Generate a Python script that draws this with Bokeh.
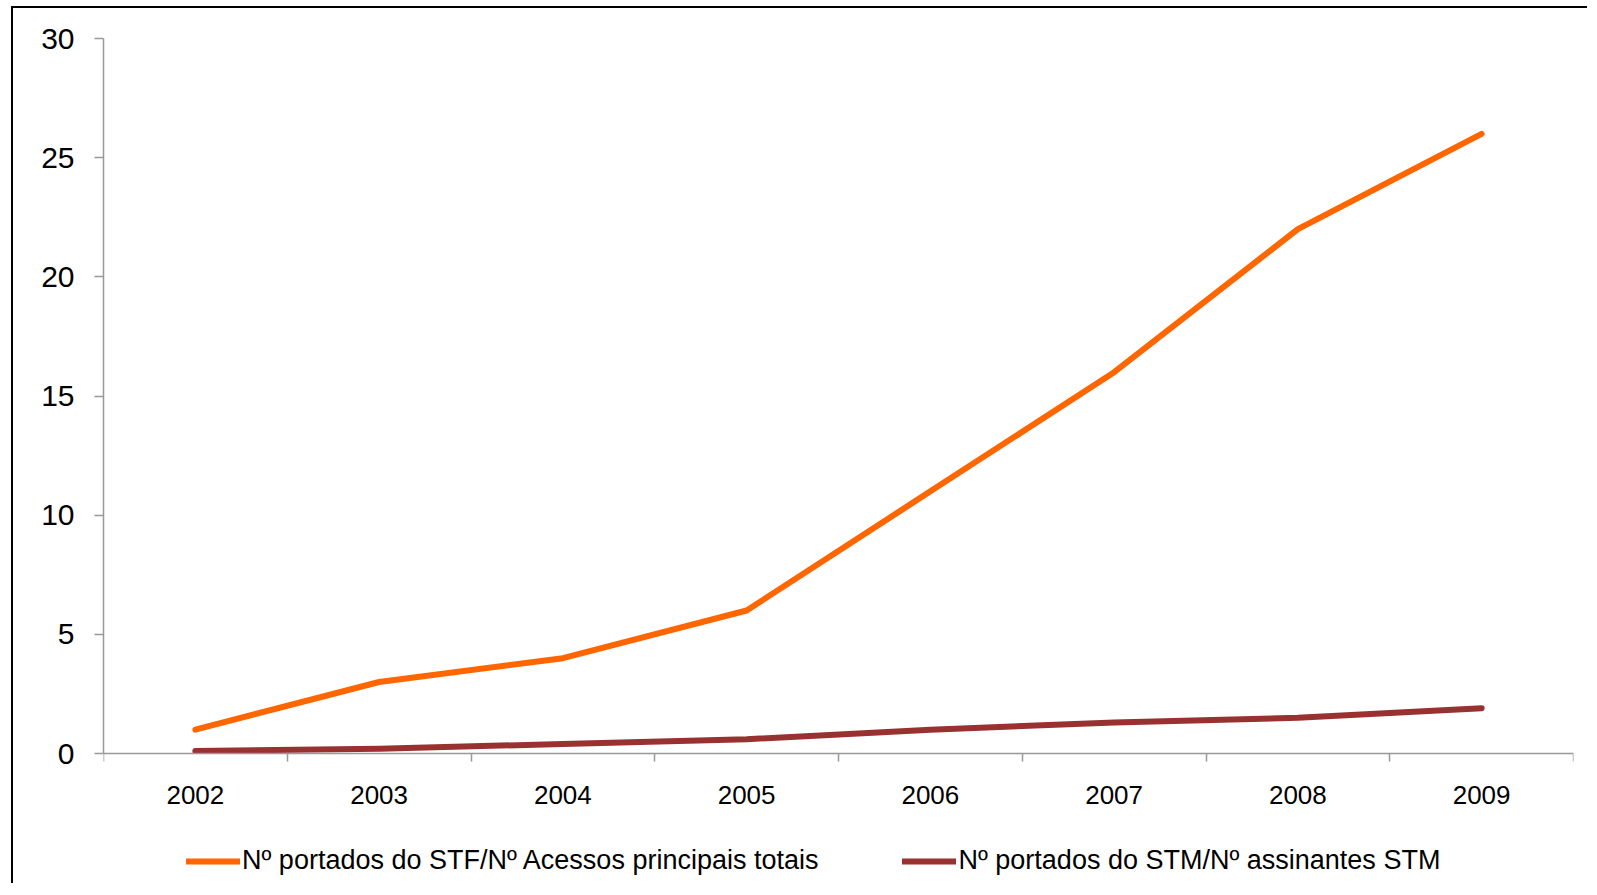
from bokeh.plotting import figure
from bokeh.models import FixedTicker, Legend, LegendItem, Range1d
from bokeh.embed import file_html
from bokeh.resources import INLINE

years = ["2002", "2003", "2004", "2005", "2006", "2007", "2008", "2009"]
stf_ratio = [1, 3, 4, 6, 11, 16, 22, 26]
stm_ratio = [0.1, 0.2, 0.4, 0.6, 1.0, 1.3, 1.5, 1.9]
y_ticks = [0, 5, 10, 15, 20, 25, 30]
label_stf = "Nº portados do STF/Nº Acessos principais totais"
label_stm = "Nº portados do STM/Nº assinantes STM"

xpos = [i + 0.5 for i in range(len(years))]

FONT = "Liberation Sans"
AXIS_COLOR = "#999999"

# layout (pixels)
W, H = 1576, 877
BORDER_TOP = 30
PLOT_H = 715          # pixels used by the 0..30 value span
FRAME_H = H - BORDER_TOP
y_max = max(y_ticks)
y_low = -y_max * (FRAME_H - PLOT_H) / PLOT_H

p = figure(width=W, height=H,
           x_range=Range1d(0, len(years)), y_range=Range1d(y_low, y_max),
           output_backend="svg", toolbar_location=None,
           min_border_left=90, min_border_right=16,
           min_border_top=BORDER_TOP, min_border_bottom=0)
p.styles = {"border-left": "2px solid black", "border-top": "2px solid black",
            "margin-left": "11px", "margin-top": "6px",
            "padding-bottom": "9px"}
p.xgrid.visible = False
p.ygrid.visible = False
p.outline_line_color = None
p.background_fill_color = "white"
p.border_fill_color = "white"

r1 = p.line(xpos, stf_ratio, line_color="#FF6600", line_width=6,
            line_cap="round", line_join="round")
r2 = p.line(xpos, stm_ratio, line_color="#993131", line_width=6,
            line_cap="round", line_join="round")

xa = p.xaxis[0]
xa.fixed_location = 0
xa.ticker = FixedTicker(ticks=xpos, minor_ticks=list(range(len(years) + 1)))
xa.major_label_overrides = {x: y for x, y in zip(xpos, years)}
xa.major_tick_out = 0
xa.major_tick_in = 0
xa.minor_tick_out = 8
xa.minor_tick_in = 0
xa.minor_tick_line_color = AXIS_COLOR
xa.minor_tick_line_width = 1.5
xa.axis_line_color = AXIS_COLOR
xa.axis_line_width = 1.5
xa.major_label_text_font = FONT
xa.major_label_text_font_size = "26px"
xa.major_label_text_color = "black"
xa.major_label_standoff = 24

ya = p.yaxis[0]
ya.bounds = (0, y_max)
ya.ticker = FixedTicker(ticks=y_ticks, minor_ticks=[])
ya.major_tick_out = 9
ya.major_tick_in = 0
ya.major_tick_line_color = AXIS_COLOR
ya.major_tick_line_width = 1.5
ya.axis_line_color = AXIS_COLOR
ya.axis_line_width = 1.5
ya.major_label_text_font = FONT
ya.major_label_text_font_size = "30px"
ya.major_label_text_color = "black"
ya.major_label_standoff = 20

legend = Legend(items=[LegendItem(label=label_stf, renderers=[r1]),
                       LegendItem(label=label_stm, renderers=[r2])],
                orientation="horizontal", location=(83, 9))
legend.padding = 0
legend.margin = 0
legend.spacing = 84
legend.glyph_width = 54
legend.glyph_height = 28
legend.label_standoff = 2
legend.label_text_font = FONT
legend.label_text_font_size = "27px"
legend.label_text_color = "black"
legend.border_line_color = None
legend.background_fill_alpha = 0
p.add_layout(legend)

open("out.html", "w").write(file_html(p, INLINE))
